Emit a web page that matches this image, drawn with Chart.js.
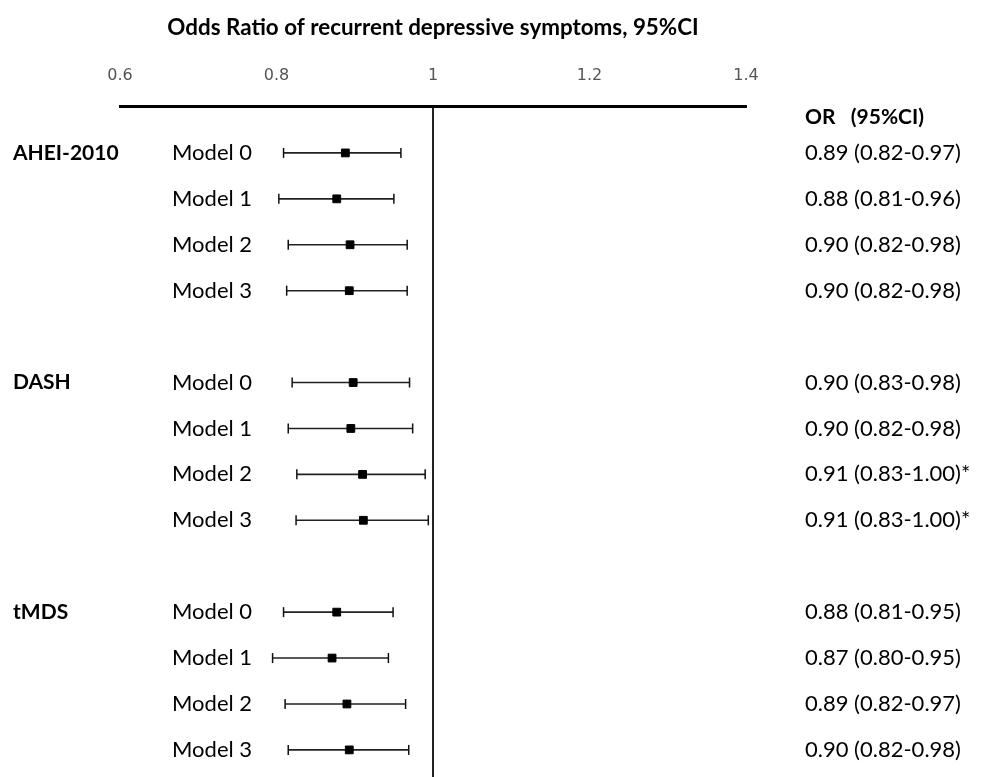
<!DOCTYPE html>
<html>
<head>
<meta charset="utf-8">
<script src="https://cdn.jsdelivr.net/npm/chart.js@4.4.1/dist/chart.umd.min.js"></script>
<style>
  html, body { margin: 0; padding: 0; background: #fff; overflow: hidden; }
  canvas { display: block; }
</style>
</head>
<body>
<canvas id="forest" width="983" height="777"></canvas>
<script>
// Dados (posições desenhadas e rótulos de texto).
const groups = ['AHEI-2010', 'DASH', 'tMDS'];
const models = ['Model 0', 'Model 1', 'Model 2', 'Model 3'];
const xTicks = [0.6, 0.8, 1, 1.2, 1.4];

const orValues = [0.888, 0.877, 0.894, 0.893,
                  0.898, 0.895, 0.910, 0.911,
                  0.877, 0.871, 0.890, 0.893];
const ciLower  = [0.809, 0.803, 0.815, 0.813,
                  0.820, 0.815, 0.826, 0.825,
                  0.809, 0.795, 0.811, 0.815];
const ciUpper  = [0.959, 0.950, 0.967, 0.967,
                  0.970, 0.974, 0.990, 0.994,
                  0.949, 0.943, 0.965, 0.969];
const orLabels = ['0.89 (0.82-0.97)', '0.88 (0.81-0.96)', '0.90 (0.82-0.98)', '0.90 (0.82-0.98)',
                  '0.90 (0.83-0.98)', '0.90 (0.82-0.98)', '0.91 (0.83-1.00)*', '0.91 (0.83-1.00)*',
                  '0.88 (0.81-0.95)', '0.87 (0.80-0.95)', '0.89 (0.82-0.97)', '0.90 (0.82-0.98)'];

const titleText = 'Odds Ratio of recurrent depressive symptoms, 95%CI';
const headerText = 'OR   (95%CI)';

// Linha da figura: cada grupo ocupa 4 linhas + 1 linha em branco.
const rowOf = (i) => Math.floor(i / models.length) * (models.length + 1) + (i % models.length);

const ciSegments = [];
const capPoints = [];
const orPoints = [];
orValues.forEach((v, i) => {
    const r = rowOf(i);
    ciSegments.push({ x: ciLower[i], y: r }, { x: ciUpper[i], y: r }, { x: ciUpper[i], y: null });
    capPoints.push({ x: ciLower[i], y: r }, { x: ciUpper[i], y: r });
    orPoints.push({ x: v, y: r });
});

const textFont = '"Lato", "Open Sans", sans-serif';

// Rótulos à esquerda e coluna de OR à direita.
const labelsPlugin = {
    id: 'forestLabels',
    afterDraw(chart) {
        const { ctx, chartArea, scales } = chart;
        const y = scales.y;
        ctx.save();
        ctx.fillStyle = '#000';
        ctx.textBaseline = 'middle';
        ctx.textAlign = 'left';

        ctx.font = 'bold 21px ' + textFont;
        groups.forEach((g, gi) => {
            ctx.fillText(g, 13, y.getPixelForValue(gi * (models.length + 1)));
        });
        ctx.fillText(headerText, 805, chartArea.top + 11);

        ctx.font = '22px ' + textFont;
        orValues.forEach((v, i) => {
            const py = y.getPixelForValue(rowOf(i));
            ctx.fillText(models[i % models.length], 172, py);
            ctx.fillText(orLabels[i], 805, py);
        });
        ctx.restore();
    }
};

new Chart(document.getElementById('forest'), {
    type: 'scatter',
    data: {
        datasets: [
            {
                type: 'line',
                data: ciSegments,
                borderColor: '#222',
                borderWidth: 1.6,
                pointRadius: 0,
                spanGaps: false,
                order: 3
            },
            {
                data: capPoints,
                pointStyle: 'line',
                rotation: 90,
                radius: 5,
                borderColor: '#111',
                borderWidth: 1.5,
                order: 2
            },
            {
                data: orPoints,
                pointStyle: 'rect',
                radius: 5.5,
                backgroundColor: '#000',
                borderColor: '#000',
                borderWidth: 1,
                order: 1
            }
        ]
    },
    options: {
        responsive: false,
        animation: false,
        layout: { autoPadding: false, padding: { left: 120, right: 237, top: 14, bottom: 0 } },
        plugins: {
            legend: { display: false },
            tooltip: { enabled: false },
            title: {
                display: true,
                text: titleText,
                fullSize: false,
                color: '#000',
                font: { family: textFont, size: 22.4, weight: 'bold' },
                padding: { top: 0, bottom: 4 }
            }
        },
        scales: {
            x: {
                type: 'linear',
                position: 'top',
                min: 0.6,
                max: 1.4,
                afterBuildTicks: (scale) => { scale.ticks = xTicks.map(v => ({ value: v })); },
                ticks: {
                    color: '#555',
                    font: { family: '"DejaVu Sans", sans-serif', size: 16 },
                    padding: 21,
                    callback: (v) => String(v)
                },
                grid: {
                    drawTicks: false,
                    lineWidth: 2,
                    color: (c) => (c.tick && c.tick.value === 1 ? '#222' : 'rgba(0,0,0,0)')
                },
                border: { display: true, color: '#000', width: 3 }
            },
            y: {
                type: 'linear',
                display: false,
                reverse: true,
                min: -1.02,
                max: 13.59
            }
        }
    },
    plugins: [labelsPlugin]
});
</script>
</body>
</html>
